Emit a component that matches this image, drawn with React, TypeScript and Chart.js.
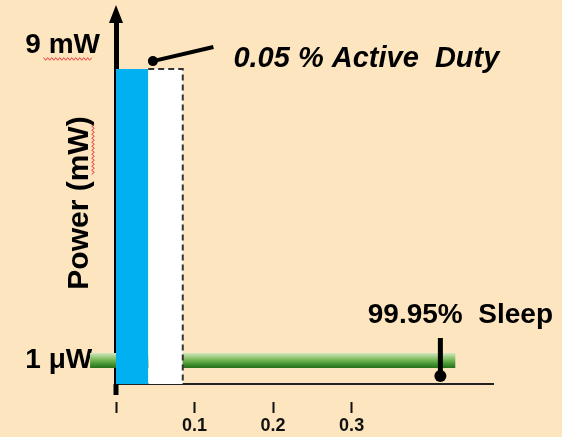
import React, { useEffect, useRef } from "react";
import { Chart, registerables } from "chart.js";

Chart.register(...registerables);

const FONT = "'Liberation Sans', Arial, sans-serif";
const BG = "#FCE5BF";

// axis ranges
const X_MIN = 0;
const X_MAX = 0.48;
const Y_MIN = 0.00048; // mW (log axis)
const Y_MAX = 39;

// ticks
const yTickValues = [0.001, 9];
const yTickLabels = ["1 μW ", "9 mW"];
const xTickValues = [0, 0.1, 0.2, 0.3];
const xTickLabels = ["", "0.1", "0.2", "0.3"];

// power levels (mW)
const activeLevel = 9;
const sleepLevel = 0.001;

// time spans
const activeX = [0, 0.041];
const dutyX = [0.041, 0.085];
const sleepX = [-0.033, 0.432];

// leader lines for the annotations
const activeLeaderX = [0.047, 0.124];
const activeLeaderY = [11.5, 17.9];
const sleepLeaderX = [0.413, 0.413];
const sleepLeaderY = [0.00202, 0.000616];

const activeText = "0.05 % Active  Duty";
const sleepText = "99.95%  Sleep";
const yTitle = "Power (mW)";

function squiggle(ctx: CanvasRenderingContext2D, x0: number, y0: number, x1: number, y1: number) {
  const len = Math.hypot(x1 - x0, y1 - y0);
  const ux = (x1 - x0) / len;
  const uy = (y1 - y0) / len;
  const nx = -uy;
  const ny = ux;
  ctx.save();
  ctx.strokeStyle = "#E8383D";
  ctx.lineWidth = 1;
  ctx.beginPath();
  let s = 0;
  let k = 0;
  while (s <= len) {
    const off = k % 2 === 0 ? -1.3 : 1.3;
    const px = x0 + ux * s + nx * off;
    const py = y0 + uy * s + ny * off;
    if (s === 0) ctx.moveTo(px, py);
    else ctx.lineTo(px, py);
    s += 2;
    k++;
  }
  ctx.stroke();
  ctx.restore();
}

const decorPlugin = {
  id: "decor",
  afterDraw(chart: any) {
    const { ctx, chartArea: ca, scales } = chart;
    const ax = ca.left;
    ctx.save();
    // arrow head and extension of y axis
    ctx.fillStyle = "#000";
    ctx.beginPath();
    ctx.moveTo(ax, ca.top - 17);
    ctx.lineTo(ax - 7, ca.top + 1);
    ctx.lineTo(ax + 7, ca.top + 1);
    ctx.closePath();
    ctx.fill();
    ctx.fillRect(ax - 2.5, ca.bottom, 5, 11);

    // annotation texts
    const a = chart.getDatasetMeta(0).data[1];
    ctx.fillStyle = "#000";
    ctx.textBaseline = "middle";
    ctx.textAlign = "left";
    ctx.font = `italic bold 29px ${FONT}`;
    ctx.fillText(activeText, a.x + 20, a.y + 12);

    const s = chart.getDatasetMeta(1).data[0];
    ctx.textAlign = "center";
    ctx.font = `bold 28px ${FONT}`;
    ctx.fillText(sleepText, s.x + 20, s.y - 23);

    // spell-check squiggles
    ctx.font = `bold 28px ${FONT}`;
    const labelRight = ax - 16;
    const yTop = scales.y.getPixelForValue(activeLevel) - 24;
    const wMW = ctx.measureText("mW").width;
    squiggle(ctx, labelRight - wMW - 5, yTop + 14, labelRight - 7, yTop + 14);

    ctx.font = `bold 30px ${FONT}`;
    const tw = ctx.measureText(yTitle).width;
    const tcY = (ca.top + ca.bottom) / 2;
    const top = tcY - tw / 2;
    const wParen = ctx.measureText(")").width;
    const wMW2 = ctx.measureText("mW").width;
    squiggle(ctx, 93, top + wParen - 2, 93, top + wParen + wMW2 - 6);
    ctx.restore();
  },
};

function sleepGradient(c: any) {
  const chart = c.chart;
  const { ctx, chartArea, scales } = chart;
  if (!chartArea || !scales.y) return "#3c8a2a";
  const y = scales.y.getPixelForValue(sleepLevel);
  const g = ctx.createLinearGradient(0, y - 7.5, 0, y + 7.5);
  g.addColorStop(0, "#d2e7c0");
  g.addColorStop(0.45, "#79b857");
  g.addColorStop(0.8, "#3b8b29");
  g.addColorStop(1, "#2a6d1b");
  return g;
}

export default function App() {
  const ref = useRef<HTMLCanvasElement>(null);

  useEffect(() => {
    document.body.style.margin = "0";
    const datasets: any[] = [
      {
        data: activeLeaderX.map((x, i) => ({ x, y: activeLeaderY[i] })),
        borderColor: "#000",
        borderWidth: 4,
        pointRadius: [5, 0],
        pointBackgroundColor: "#000",
        pointBorderWidth: 0,
        clip: false,
      },
      {
        data: sleepLeaderX.map((x, i) => ({ x, y: sleepLeaderY[i] })),
        borderColor: "#000",
        borderWidth: 5,
        pointRadius: [0, 6],
        pointBackgroundColor: "#000",
        pointBorderWidth: 0,
        clip: false,
      },
      {
        data: [
          { x: dutyX[0], y: activeLevel },
          { x: dutyX[1], y: activeLevel },
          { x: dutyX[1], y: Y_MIN },
        ],
        borderColor: "#333",
        borderWidth: 2,
        borderDash: [6, 4],
        pointRadius: 0,
        fill: false,
      },
      {
        data: activeX.map((x) => ({ x, y: activeLevel })),
        borderWidth: 0,
        borderColor: "rgba(0,0,0,0)",
        backgroundColor: "#00B0F0",
        pointRadius: 0,
        fill: "start",
      },
      {
        data: dutyX.map((x) => ({ x, y: activeLevel })),
        borderWidth: 0,
        borderColor: "rgba(0,0,0,0)",
        backgroundColor: "#FFFFFF",
        pointRadius: 0,
        fill: "start",
      },
      {
        data: sleepX.map((x) => ({ x, y: sleepLevel })),
        borderColor: sleepGradient,
        borderWidth: 15,
        borderCapStyle: "butt",
        pointRadius: 0,
        fill: false,
        clip: false,
      },
    ];

    const chart = new Chart(ref.current as HTMLCanvasElement, {
      type: "line",
      data: { datasets },
      options: {
        responsive: false,
        animation: false,
        events: [],
        layout: { padding: { top: 22, right: 69, left: 0, bottom: 0 } },
        elements: { line: { tension: 0 } },
        plugins: { legend: { display: false }, tooltip: { enabled: false } },
        scales: {
          x: {
            type: "linear",
            min: X_MIN,
            max: X_MAX,
            z: 1,
            afterBuildTicks: (s: any) => {
              s.ticks = xTickValues.map((v) => ({ value: v }));
            },
            afterFit: (s: any) => {
              s.height = 53;
              s.paddingLeft = 0;
              s.paddingRight = 0;
            },
            ticks: {
              callback: (_v: any, i: number) => xTickLabels[i],
              font: { family: FONT, size: 18, weight: "bold" },
              color: "#111",
              padding: 2,
              maxRotation: 0,
              autoSkip: false,
            },
            grid: {
              display: true,
              drawOnChartArea: false,
              drawTicks: true,
              tickLength: 29,
              tickWidth: 2,
              tickColor: "#111",
              tickBorderDash: [0, 17, 11, 100],
            },
            border: { display: true, width: 2, color: "#222" },
          },
          y: {
            type: "logarithmic",
            min: Y_MIN,
            max: Y_MAX,
            z: 1,
            afterBuildTicks: (s: any) => {
              s.ticks = yTickValues.map((v) => ({ value: v }));
            },
            afterFit: (s: any) => {
              s.width = 116;
              s.paddingTop = 0;
              s.paddingBottom = 0;
            },
            ticks: {
              callback: (_v: any, i: number) =>
                yTickValues[i] === activeLevel ? [yTickLabels[i], ""] : yTickLabels[i],
              font: (c: any) => ({
                family: FONT,
                size: 28,
                weight: "bold",
                lineHeight: c.index === 1 ? 48 / 28 : 1.2,
              }),
              color: "#000",
              padding: 16,
              autoSkip: false,
            },
            grid: { display: false, drawTicks: false },
            border: { display: true, width: 5, color: "#000" },
            title: {
              display: true,
              text: yTitle,
              font: { family: FONT, size: 30, weight: "bold" },
              color: "#000",
              padding: { top: 62, bottom: 0 },
            },
          },
        },
      } as any,
      plugins: [decorPlugin],
    });
    return () => chart.destroy();
  }, []);

  return (
    <div style={{ width: 562, height: 437, background: BG }}>
      <canvas ref={ref} width={562} height={437} style={{ display: "block" }} />
    </div>
  );
}
